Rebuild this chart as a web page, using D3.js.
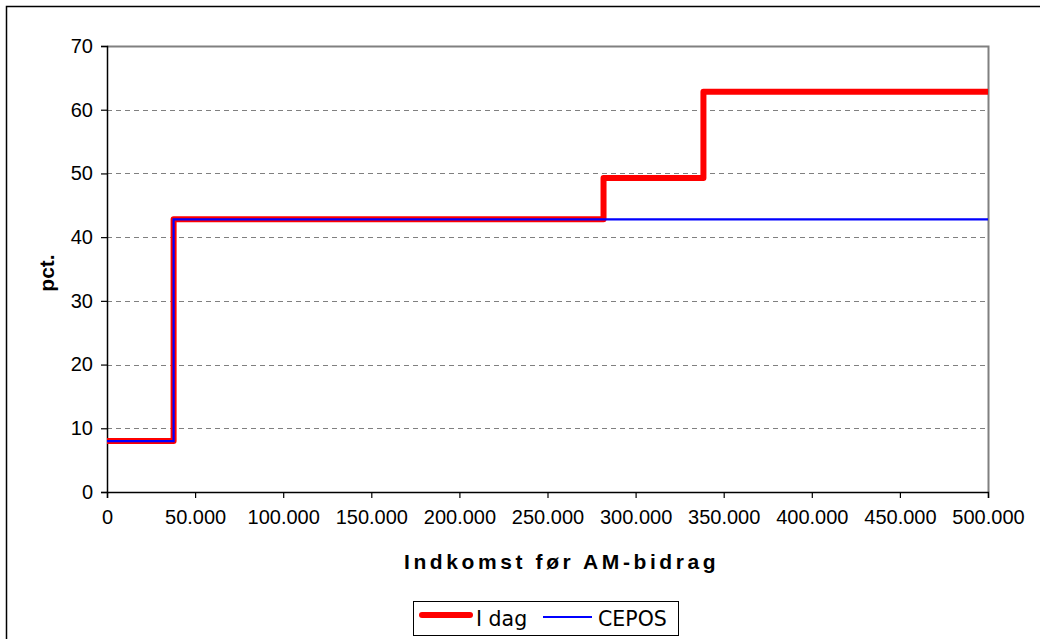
<!DOCTYPE html>
<meta charset="utf-8">
<head>
  <script src="https://d3js.org/d3.v7.min.js"></script>
  <style>
    body { margin: 0; background: #fff; }
    text { font-family: "Liberation Sans", Arial, sans-serif; }
  </style>
</head>
<body>
<svg width="1040" height="639"></svg>
<script>
// step data
var idagX = [0, 37800, 37800, 281800, 281800, 338500, 338500, 500000];
var idagY = [8, 8, 42.8, 42.8, 49.3, 49.3, 62.8, 62.8];
var ceposX = [0, 37800, 37800, 500000];
var ceposY = [8, 8, 42.8, 42.8];
var xTicks = [0, 50000, 100000, 150000, 200000, 250000, 300000, 350000, 400000, 450000, 500000];
var yTicks = [0, 10, 20, 30, 40, 50, 60, 70];

var svg = d3.select("svg");
var pLeft = 107, pRight = 988, pTop = 46, pBottom = 492;

// outer frame
svg.append("rect").attr("x", 6.5).attr("y", 6.5).attr("width", 1040).attr("height", 640)
  .attr("fill", "none").attr("stroke", "#000").attr("stroke-width", 1.5);

var x = d3.scaleLinear().domain([0, 500000]).range([pLeft, pRight]);
var y = d3.scaleLinear().domain([0, 70]).range([pBottom, pTop]);

var fmt = function(d) { return d3.format(",")(d).replace(/,/g, "."); };

// grid
svg.append("g").selectAll("line").data(yTicks.filter(function(d){return d > 0 && d < 70;}))
  .enter().append("line")
  .attr("x1", pLeft).attr("x2", pRight)
  .attr("y1", function(d){return Math.round(y(d)) + 0.5;})
  .attr("y2", function(d){return Math.round(y(d)) + 0.5;})
  .attr("stroke", "#808080").attr("stroke-dasharray", "5,4").attr("stroke-width", 1);

// top and right frame of plot
svg.append("path")
  .attr("d", "M" + pLeft + "," + (pTop + 0.5) + "H" + (pRight + 0.5) + "V" + pBottom)
  .attr("fill", "none").attr("stroke", "#808080").attr("stroke-width", 2);

var xAxis = svg.append("g").attr("transform", "translate(0," + pBottom + ")")
  .call(d3.axisBottom(x).tickValues(xTicks).tickFormat(fmt).tickSize(6).tickPadding(12));
var yAxis = svg.append("g").attr("transform", "translate(" + pLeft + ",0)")
  .call(d3.axisLeft(y).tickValues(yTicks).tickSize(6).tickPadding(8));
[xAxis, yAxis].forEach(function(a) {
  a.select(".domain").attr("stroke", "#000").attr("stroke-width", 1.5);
  a.selectAll(".tick line").attr("stroke", "#000").attr("stroke-width", 1.2);
  a.selectAll("text").attr("font-size", 20).attr("fill", "#000")
    .style("font-family", "'Liberation Sans', Arial, sans-serif");
});

var line = d3.line().x(function(d){return x(d[0]);}).y(function(d){return y(d[1]);});

svg.append("path").datum(d3.zip(idagX, idagY)).attr("d", line)
  .attr("fill", "none").attr("stroke", "#ff0000").attr("stroke-width", 6)
  .attr("stroke-linejoin", "round");
svg.append("path").datum(d3.zip(ceposX, ceposY)).attr("d", line)
  .attr("fill", "none").attr("stroke", "#0000ff").attr("stroke-width", 2.2);

// axis titles
svg.append("text").attr("x", 404).attr("y", 569)
  .attr("font-size", 21).attr("font-weight", "bold")
  .attr("letter-spacing", 3.6).text("Indkomst før AM-bidrag");
svg.append("text").attr("transform", "translate(54,273) rotate(-90)")
  .attr("text-anchor", "middle").attr("font-size", 21).attr("font-weight", "bold")
  .text("pct.");

// legend
var lg = svg.append("g");
lg.append("rect").attr("x", 413.5).attr("y", 601.5).attr("width", 265).attr("height", 34)
  .attr("fill", "#fff").attr("stroke", "#000").attr("stroke-width", 1);
lg.append("line").attr("x1", 422).attr("x2", 470).attr("y1", 615).attr("y2", 615)
  .attr("stroke", "#ff0000").attr("stroke-width", 6).attr("stroke-linecap", "round");
lg.append("text").attr("x", 476).attr("y", 626).attr("font-size", 20.5)
  .style("font-family", "'DejaVu Sans', Verdana, sans-serif").text("I dag");
lg.append("line").attr("x1", 543).attr("x2", 592).attr("y1", 617).attr("y2", 617)
  .attr("stroke", "#0000ff").attr("stroke-width", 2);
lg.append("text").attr("x", 598).attr("y", 626).attr("font-size", 20.5)
  .style("font-family", "'DejaVu Sans', Verdana, sans-serif").text("CEPOS");
</script>
</body>
